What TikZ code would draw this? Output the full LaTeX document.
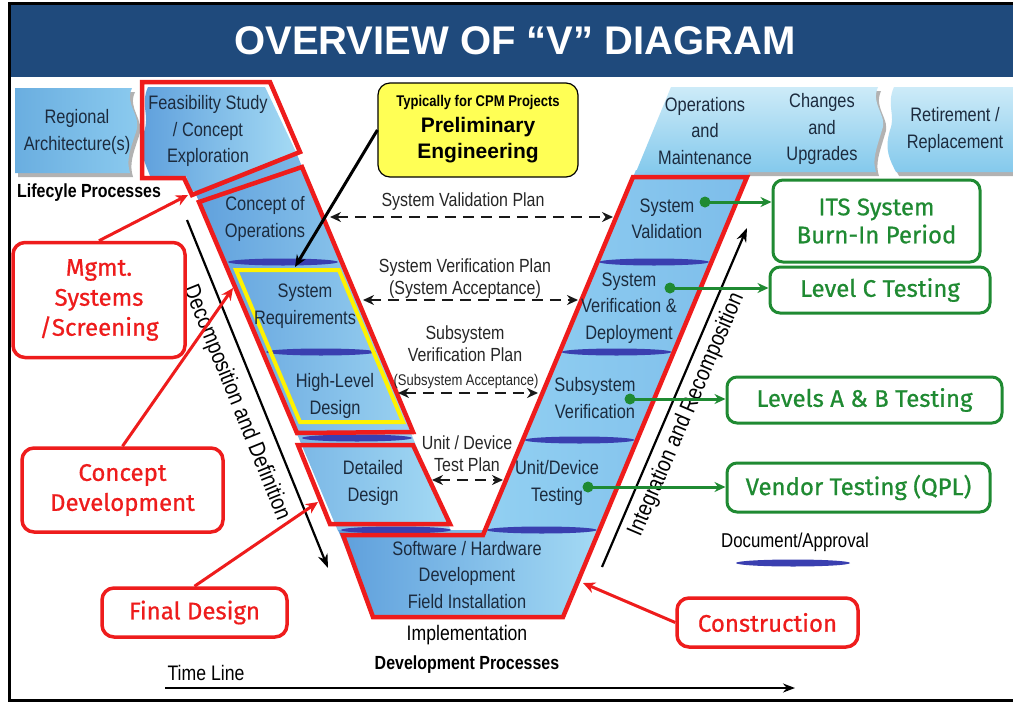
\documentclass[tikz,border=0pt]{standalone}
\usepackage{fontspec}
\setmainfont{Liberation Sans}
\newfontfamily\nf[FakeStretch=0.84]{Liberation Sans}
\newfontfamily\cf[FakeBold=0.7]{Fira Sans}
\usetikzlibrary{arrows.meta,calc}
\definecolor{titleblue}{HTML}{1F4A7C}
\definecolor{txt}{HTML}{1C2B3E}
\definecolor{docblue}{HTML}{3A3FB0}
\definecolor{cred}{HTML}{EE1C1C}
\definecolor{cgreen}{HTML}{1F8A32}
\definecolor{yel}{HTML}{FFFF55}
\definecolor{yelline}{HTML}{FFF200}
\definecolor{armL}{HTML}{5E9FDC}
\definecolor{armR}{HTML}{A4DAF4}
\definecolor{rarmL}{HTML}{92D0F2}
\definecolor{rarmR}{HTML}{7DBDEA}
\definecolor{banT}{HTML}{CDEBF8}
\definecolor{banB}{HTML}{84C9EC}
\definecolor{regL}{HTML}{6AAEE0}
\definecolor{regR}{HTML}{8CCBEF}
\begin{document}
\begin{tikzpicture}[x=1pt,y=-1pt,
  vtext/.style={font=\nf\fontsize{19.5}{26.5}\selectfont, text=txt, align=center, inner sep=0pt},
  plantext/.style={font=\nf\fontsize{19}{22}\selectfont, text=black!85, align=center, inner sep=0pt},
  redbox/.style={draw=cred, line width=3.5pt, rounded corners=12pt, fill=white, text=cred, font=\cf\fontsize{24}{30}\selectfont, align=center, inner sep=0pt},
  greenbox/.style={draw=cgreen, line width=3pt, rounded corners=10pt, fill=white, text=cgreen, font=\cf\fontsize{24}{28}\selectfont, align=center, inner sep=0pt},
  redout/.style={draw=cred, line width=4.5pt, line join=miter},
  docmark/.style={fill=docblue},
  shadowfill/.style={fill=black!55, opacity=0.55},
  planarrow/.style={draw=black!90, line width=2.2pt, dash pattern=on 11pt off 7pt, {Stealth[length=11pt,width=10pt]}-{Stealth[length=11pt,width=10pt]}},
  redarrow/.style={draw=cred, line width=3pt, -{Stealth[length=12pt,width=11pt]}},
  greenarrow/.style={draw=cgreen, line width=3pt, -{Stealth[length=11pt,width=10pt]}},
  bigarrow/.style={draw=black, line width=2.2pt, -{Stealth[length=14pt,width=10pt]}},
  blackarrow/.style={draw=black, line width=3pt, -{Stealth[length=12pt,width=10pt]}},
]
\useasboundingbox (0,0) rectangle (1013,702);
\fill[white] (0,0) rectangle (1013,702);
% frame and title
\draw[line width=3pt] (1014,3) -- (9.5,3) -- (9.5,700) -- (1014,700);
\fill[titleblue] (11,4.5) rectangle (1013,77);
\node[font=\bfseries\fontsize{40}{40}\selectfont, text=white] (title) at (515,41) {OVERVIEW OF “V” DIAGRAM};

% shadows of the lifecycle banners
\begin{scope}[shift={(3,4)}]
\path[shadowfill] (15,88) -- (132,88) .. controls (124,105) and (142,115) .. (136,132) .. controls (130,150) and (126,160) .. (130,173) -- (15,173) -- cycle;
\path[shadowfill] (671,87) -- (878,87) .. controls (870,105) and (888,115) .. (882,130) .. controls (876,150) and (872,160) .. (876,172) -- (636,172) -- cycle;
\path[shadowfill] (894,87) -- (1013,87) -- (1013,172) -- (896,172) .. controls (890,160) and (884,150) .. (890,130) .. controls (896,115) and (886,105) .. (894,87) -- cycle;
\end{scope}

% top-left lifecycle banner
\path[left color=regL, right color=regR] (15,88) -- (132,88) .. controls (124,105) and (142,115) .. (136,132) .. controls (130,150) and (126,160) .. (130,173) -- (15,173) -- cycle;
\node[vtext] (regional) at (77,132) {Regional\\Architecture(s)};
\node[font=\nf\bfseries\fontsize{19}{19}\selectfont, anchor=west, inner sep=0pt] (lifecycle) at (17,193) {Lifecyle Processes};

% V band background
\path[left color=armL, right color=armR] (189,178) -- (296,152) -- (451,531) -- (338,531) -- cycle;
\path[left color=armL, right color=armR] (338,530) -- (600,530) -- (563,617) -- (375,617) -- cycle;
\path[left color=rarmL, right color=rarmR] (484,531) -- (636,170) -- (750,170) -- (599,531) -- cycle;
% feasibility
\path[left color=armL, right color=armR] (148,87) -- (265,87) -- (296,152) -- (192,192) -- (186,176) -- (150,176) .. controls (144,160) and (138,150) .. (144,132) .. controls (150,115) and (140,105) .. (148,87) -- cycle;
% top-right banner
\path[top color=banT, bottom color=banB] (671,87) -- (878,87) .. controls (870,105) and (888,115) .. (882,130) .. controls (876,150) and (872,160) .. (876,172) -- (636,172) -- cycle;
\path[top color=banT, bottom color=banB] (894,87) -- (1013,87) -- (1013,172) -- (896,172) .. controls (890,160) and (884,150) .. (890,130) .. controls (896,115) and (886,105) .. (894,87) -- cycle;

% document marks
\foreach \cx/\cy in {283/262, 321/352, 357/438, 396/530, 654/262, 616.5/352, 579.5/440, 541.7/530}
  \fill[docmark] (\cx,\cy) ellipse [x radius=55, y radius=3.5];

% red outlines and yellow
\draw[redout] (142,82) -- (270,82) -- (300,152) -- (192,195) -- (184,178) -- (142,178) -- cycle;
\draw[redout] (199,202) -- (302,167) -- (413,432) -- (297,433) -- cycle;
\draw[draw=yelline, line width=4pt, line join=miter] (236,270) -- (339,270) -- (403,422) -- (300,422) -- cycle;
\draw[redout] (298,445) -- (413,445) -- (450,524) -- (330,524) -- cycle;
\draw[redout] (343,535) -- (483,535) -- (633,177) -- (747,177) -- (563,617) -- (373,617) -- cycle;

% V texts
\node[vtext] (feas) at (208,131) {Feasibility Study\\/ Concept\\Exploration};
\node[vtext] (conops) at (265,219) {Concept of\\Operations};
\node[vtext] (sysreq) at (305,306) {System\\Requirements};
\node[vtext] (hld) at (335,396) {High-Level\\Design};
\node[vtext] (dd) at (373,483) {Detailed\\Design};
\node[vtext] (swhw) at (467,575) {Software / Hardware\\Development\\Field Installation};
\node[vtext, font=\nf\fontsize{21}{21}\selectfont, text=black] (impl) at (467,635) {Implementation};
\node[font=\nf\bfseries\fontsize{19}{19}\selectfont, inner sep=0pt] (devproc) at (467,665) {Development Processes};
\node[vtext] (sysval) at (667,219) {System\\Validation};
\node[vtext] (sysver) at (629,308) {System\\Verification \&\\Deployment};
\node[vtext] (subver) at (595,398) {Subsystem\\Verification};
\node[vtext] (unittest) at (557,483) {Unit/Device\\Testing};
\node[vtext] (ops) at (705,131) {Operations\\and\\Maintenance};
\node[vtext] (chg) at (822,129) {Changes\\and\\Upgrades};
\node[vtext] (ret) at (955,130) {Retirement /\\Replacement};

% plan arrows
\coordinate (p1a) at (330,217); \coordinate (p1b) at (613,217);
\coordinate (p2a) at (363,300); \coordinate (p2b) at (578,300);
\coordinate (p3a) at (398,393); \coordinate (p3b) at (538,393);
\coordinate (p4a) at (432,480); \coordinate (p4b) at (503,480);
\draw[planarrow] (p1a) -- (p1b);
\draw[planarrow] (p2a) -- (p2b);
\draw[planarrow] (p3a) -- (p3b);
\draw[planarrow] (p4a) -- (p4b);
\node[plantext] (valplan) at (463,202) {System Validation Plan};
\node[plantext] (verplan) at (465,279) {System Verification Plan\\(System Acceptance)};
\node[plantext] (subplan) at (465,344) {Subsystem\\Verification Plan};
\node[plantext, font=\nf\fontsize{15.5}{18}\selectfont] (subacc) at (466,381) {(Subsystem Acceptance)};
\node[plantext] (unitplan) at (467,454) {Unit / Device\\Test Plan};

% big diagonal arrows
\coordinate (dtop) at (187,220); \coordinate (dbot) at (328,568);
\draw[bigarrow] (dtop) -- (dbot) node[pos=0.5, sloped, below=11pt, font=\nf\fontsize{23}{23}\selectfont, inner sep=0pt] (decomp) {Decomposition and Definition};
\coordinate (ibot) at (602,567); \coordinate (itop) at (747,228);
\draw[bigarrow] (ibot) -- (itop) node[pos=0.47, sloped, below=6pt, font=\nf\fontsize{23}{23}\selectfont, inner sep=0pt] (integ) {Integration and Recomposition};

% preliminary engineering
\node[draw=black, line width=1.2pt, fill=yel, rounded corners=12pt, minimum width=200pt, minimum height=94pt, inner sep=0pt] (prelim) at (478,130) {};
\node[font=\nf\bfseries\fontsize{15.5}{15.5}\selectfont, inner sep=0pt] (typ) at (478,102) {Typically for CPM Projects};
\node[font=\bfseries\fontsize{21}{26}\selectfont, align=center, inner sep=0pt] (prelimtxt) at (478,140) {Preliminary\\Engineering};
\coordinate (sysreqpt) at (295,267);
\draw[blackarrow] (prelim.west) -- (sysreqpt);

% red callouts
\node[redbox, minimum width=172pt, minimum height=115pt] (mgmt) at (99,300) {Mgmt.\\Systems\\/Screening};
\node[redbox, minimum width=201pt, minimum height=84pt] (concdev) at (122.5,490) {Concept\\Development};
\node[redbox, minimum width=185pt, minimum height=49pt] (findes) at (194.5,612.5) {Final Design};
\node[redbox, minimum width=181pt, minimum height=49pt] (constr) at (767.5,622.5) {Construction};
\coordinate (feasbot) at (188,195);
\coordinate (sysreqin) at (233,288);
\coordinate (ddin) at (318,502);
\coordinate (consin) at (583,583);
\draw[redarrow] (mgmt.north) -- (feasbot);
\draw[redarrow] (concdev.north) -- (sysreqin);
\draw[redarrow] (findes.north) -- (ddin);
\draw[redarrow] (constr.west) -- (consin);

% green callouts
\node[greenbox, minimum width=207pt, minimum height=82pt] (its) at (876.5,221) {ITS System\\Burn-In Period};
\node[greenbox, minimum width=220pt, minimum height=46pt] (levc) at (880,290) {Level C Testing};
\node[greenbox, minimum width=275pt, minimum height=46pt] (levab) at (864.5,400) {Levels A \& B Testing};
\node[greenbox, minimum width=263pt, minimum height=49pt] (vendor) at (858.5,487.5) {Vendor Testing (QPL)};
\coordinate (g1) at (705,202);
\coordinate (g2) at (670,288);
\coordinate (g3) at (630,399);
\coordinate (g4) at (588,487);
\draw[greenarrow] (g1) -- (g1 -| its.west);
\draw[greenarrow] (g2) -- (g2 -| levc.west);
\draw[greenarrow] (g3) -- (g3 -| levab.west);
\draw[greenarrow] (g4) -- (g4 -| vendor.west);
\foreach \g in {g1,g2,g3,g4} \fill[cgreen] (\g) circle [radius=5.5];

% time line and legend
\node[font=\nf\fontsize{21}{21}\selectfont, inner sep=0pt] (timeline) at (206,673) {Time Line};
\coordinate (tla) at (165,688); \coordinate (tlb) at (795,688);
\draw[line width=2pt, -{Stealth[length=12pt,width=9pt]}] (tla) -- (tlb);
\node[font=\nf\fontsize{20}{20}\selectfont, inner sep=0pt] (docapp) at (795,542) {Document/Approval};
\fill[docmark] (793,563) ellipse [x radius=57, y radius=3.5];
\end{tikzpicture}
\end{document}
